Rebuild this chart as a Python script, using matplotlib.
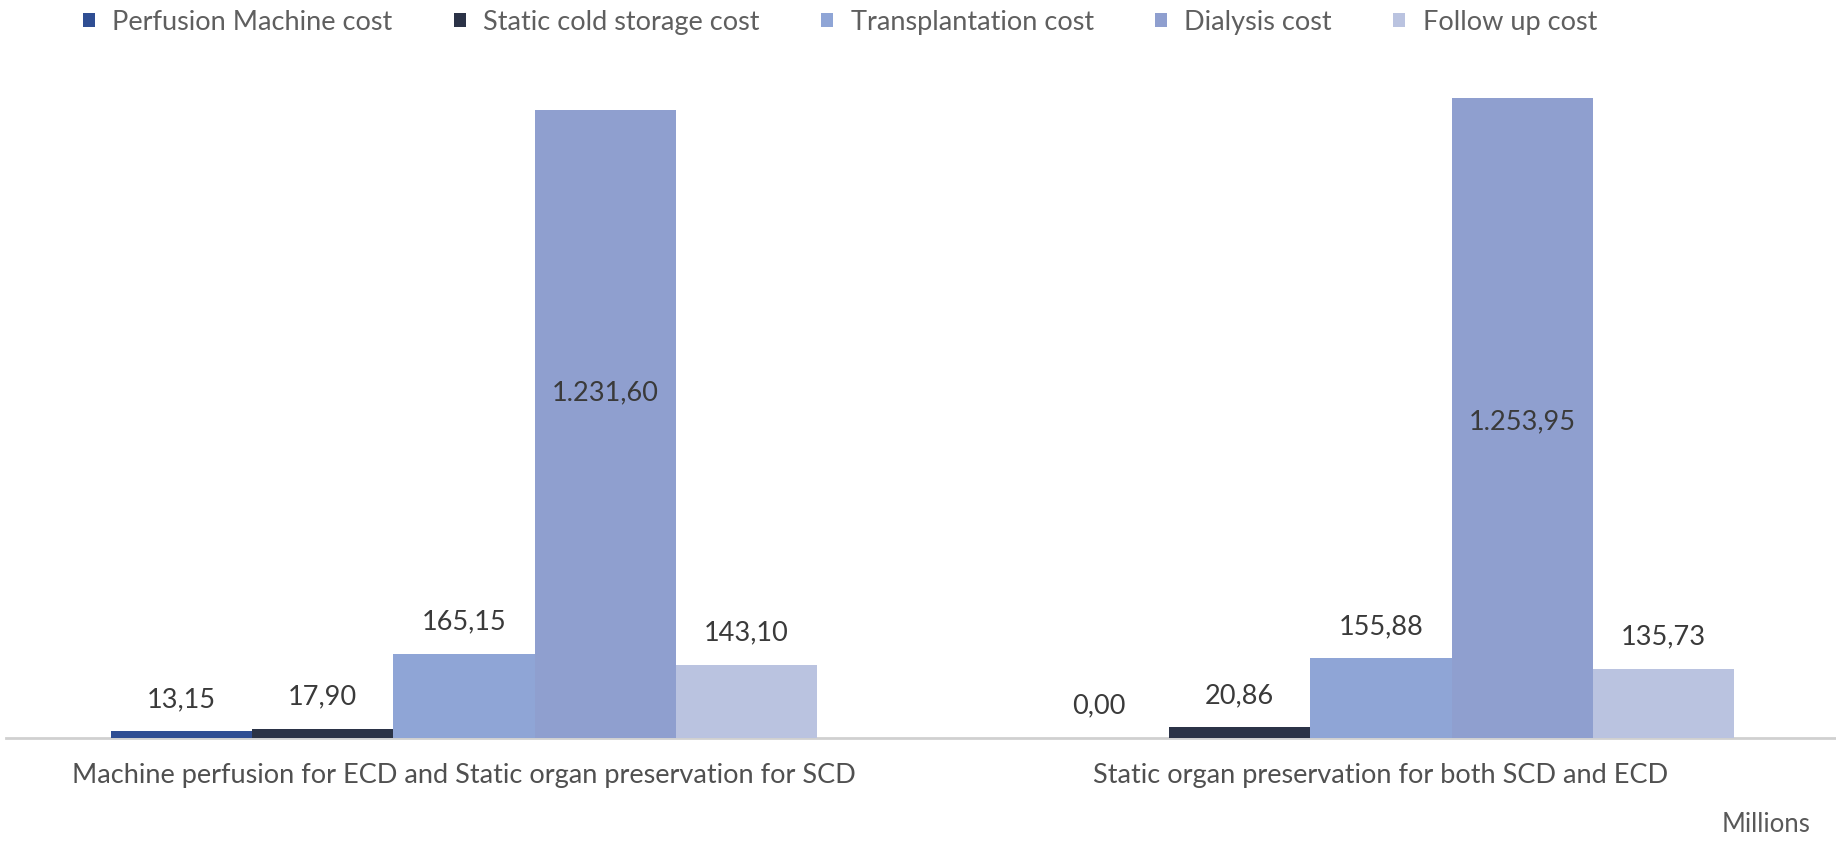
import matplotlib.pyplot as plt
import numpy as np

plt.rcParams["font.family"] = ["Lato", "DejaVu Sans"]

categories = [
    "Machine perfusion for ECD and Static organ preservation for SCD",
    "Static organ preservation for both SCD and ECD",
]
series_names = [
    "Perfusion Machine cost",
    "Static cold storage cost",
    "Transplantation cost",
    "Dialysis cost",
    "Follow up cost",
]
perfusion = [13.15, 0.00]
static_cold = [17.90, 20.86]
transplantation = [165.15, 155.88]
dialysis = [1231.60, 1253.95]
follow_up = [143.10, 135.73]
series_values = [perfusion, static_cold, transplantation, dialysis, follow_up]
colors = ["#2F4E93", "#2B3347", "#8FA5D6", "#8F9FCF", "#BAC3E0"]
# where the labels inside the tall dialysis bars sit (fraction of bar height)
dialysis_label_frac = [0.55, 0.495]


def fmt(v):
    s = f"{v:,.2f}"
    return s.replace(",", "X").replace(".", ",").replace("X", ".")


W, H = 1836, 841
fig = plt.figure(figsize=(W / 100, H / 100), dpi=100)
ax = fig.add_axes([5.5 / W, 1 - 738 / H, 1834 / W, (738 - 60) / H])

x = np.arange(len(categories))
width = 0.77 / len(series_names)
for i, (name, vals, col) in enumerate(zip(series_names, series_values, colors)):
    pos = x - 0.385 + width * (i + 0.5)
    bars = ax.bar(pos, vals, width=width, color=col, label=name, zorder=2)
    for j, (b, v) in enumerate(zip(bars, vals)):
        cx = b.get_x() + b.get_width() / 2
        if name == "Dialysis cost":
            ax.text(cx, v * dialysis_label_frac[j], fmt(v), ha="center", va="center",
                    fontsize=19.5, color="#3A3A3A")
        else:
            ax.annotate(fmt(v), (cx, v), xytext=(0, 23), textcoords="offset points",
                        ha="center", va="center", fontsize=19.5, color="#3A3A3A")

ax.set_xlim(-0.5, 1.5)
ax.set_ylim(0, 1329)
ax.set_yticks([])
ax.set_xticks(x)
ax.set_xticklabels(categories, fontsize=19.5, color="#505050")
ax.tick_params(axis="x", length=0, pad=18)
for s in ["top", "right", "left"]:
    ax.spines[s].set_visible(False)
ax.spines["bottom"].set_color("#D0D0D0")
ax.spines["bottom"].set_linewidth(2)
ax.spines["bottom"].set_zorder(1)

fig.legend(loc="upper left", bbox_to_anchor=(69 / W, 1 + 4 / H), ncol=5, frameon=False,
           borderpad=0, fontsize=19.5, handlelength=0.45, handleheight=0.45,
           handletextpad=0.65, columnspacing=2.25, labelcolor="#5F5F5F")

fig.text(1810 / W, 1 - 825 / H, "Millions", ha="right", va="center",
         fontsize=18.5, color="#595959")

fig.savefig("out.png", dpi=100)
